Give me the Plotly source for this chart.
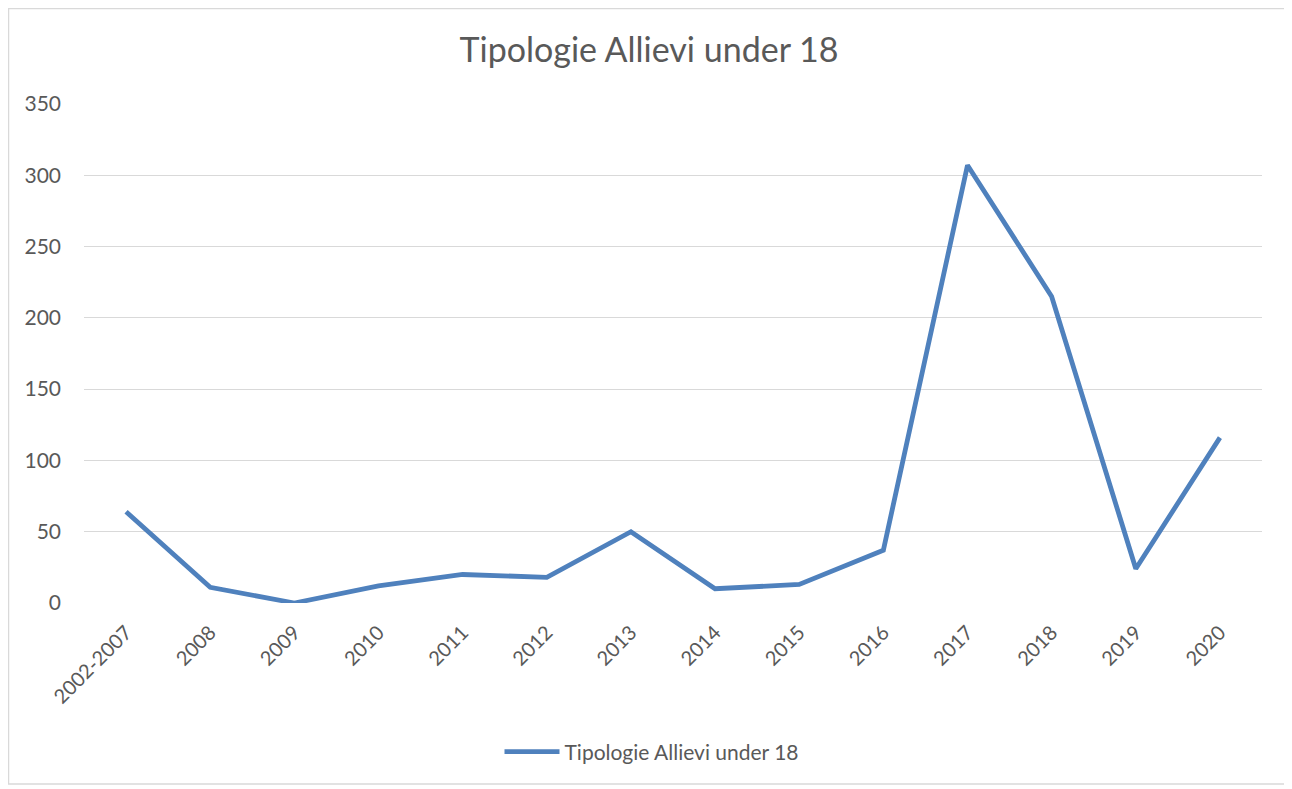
import plotly.graph_objects as go

categories = ["2002-2007", "2008", "2009", "2010", "2011", "2012", "2013",
              "2014", "2015", "2016", "2017", "2018", "2019", "2020"]
values = [64, 11, 0, 12, 20, 18, 50, 10, 13, 37, 307, 215, 24, 116]
series_name = "Tipologie Allievi under 18"
y_ticks = [0, 50, 100, 150, 200, 250, 300, 350]

# page body has an 8px default margin; work in screenshot coordinates
OFF = 8
W, H = 1292 - OFF, 789 - OFF
L = 84 - OFF
T = 104 - OFF
R = W - (1262 - OFF)
B = H - (603 - OFF)
pw, ph = W - L - R, H - T - B

fig = go.Figure()
fig.add_trace(go.Scatter(
    x=categories, y=values, mode="lines", name=series_name,
    line=dict(color="#4f81bd", width=4.8),
))

def px_x(p):
    return (p - OFF - L) / pw

def px_y(p):
    return (H - B - (p - OFF)) / ph

fig.update_layout(
    width=W, height=H,
    margin=dict(l=L, r=R, t=T, b=B),
    paper_bgcolor="white", plot_bgcolor="white",
    font=dict(family="Lato, Open Sans, sans-serif", color="#595959", size=20),
    title=dict(text="Tipologie Allievi under 18", x=(649 - OFF) / W, xanchor="center",
               xref="container",
               y=1 - (50 - OFF) / H, yanchor="middle",
               font=dict(size=34, color="#595959")),
    xaxis=dict(type="category", range=[-0.5, len(categories) - 0.5],
               tickangle=-45, showgrid=False, zeroline=False, showline=False,
               ticks="", ticklabelstandoff=13,
               tickfont=dict(size=20, color="#595959")),
    yaxis=dict(range=[0, 350], tickvals=y_ticks, showgrid=True,
               gridcolor="#d9d9d9", gridwidth=1.3, zeroline=False,
               showline=False, ticks="", ticklabelstandoff=22,
               tickfont=dict(size=21, color="#595959")),
    showlegend=True,
    legend=dict(orientation="h", x=(652 - OFF - L) / pw, xanchor="center",
                y=px_y(752), yanchor="middle",
                font=dict(size=21, color="#595959"), itemwidth=55),
    shapes=[dict(type="rect", xref="paper", yref="paper",
                 x0=px_x(OFF + 0.5), x1=px_x(1288), y0=px_y(784), y1=px_y(OFF + 0.5),
                 line=dict(color="#d9d9d9", width=1.5), fillcolor="rgba(0,0,0,0)",
                 layer="below")],
)

fig.write_html("out.html")
